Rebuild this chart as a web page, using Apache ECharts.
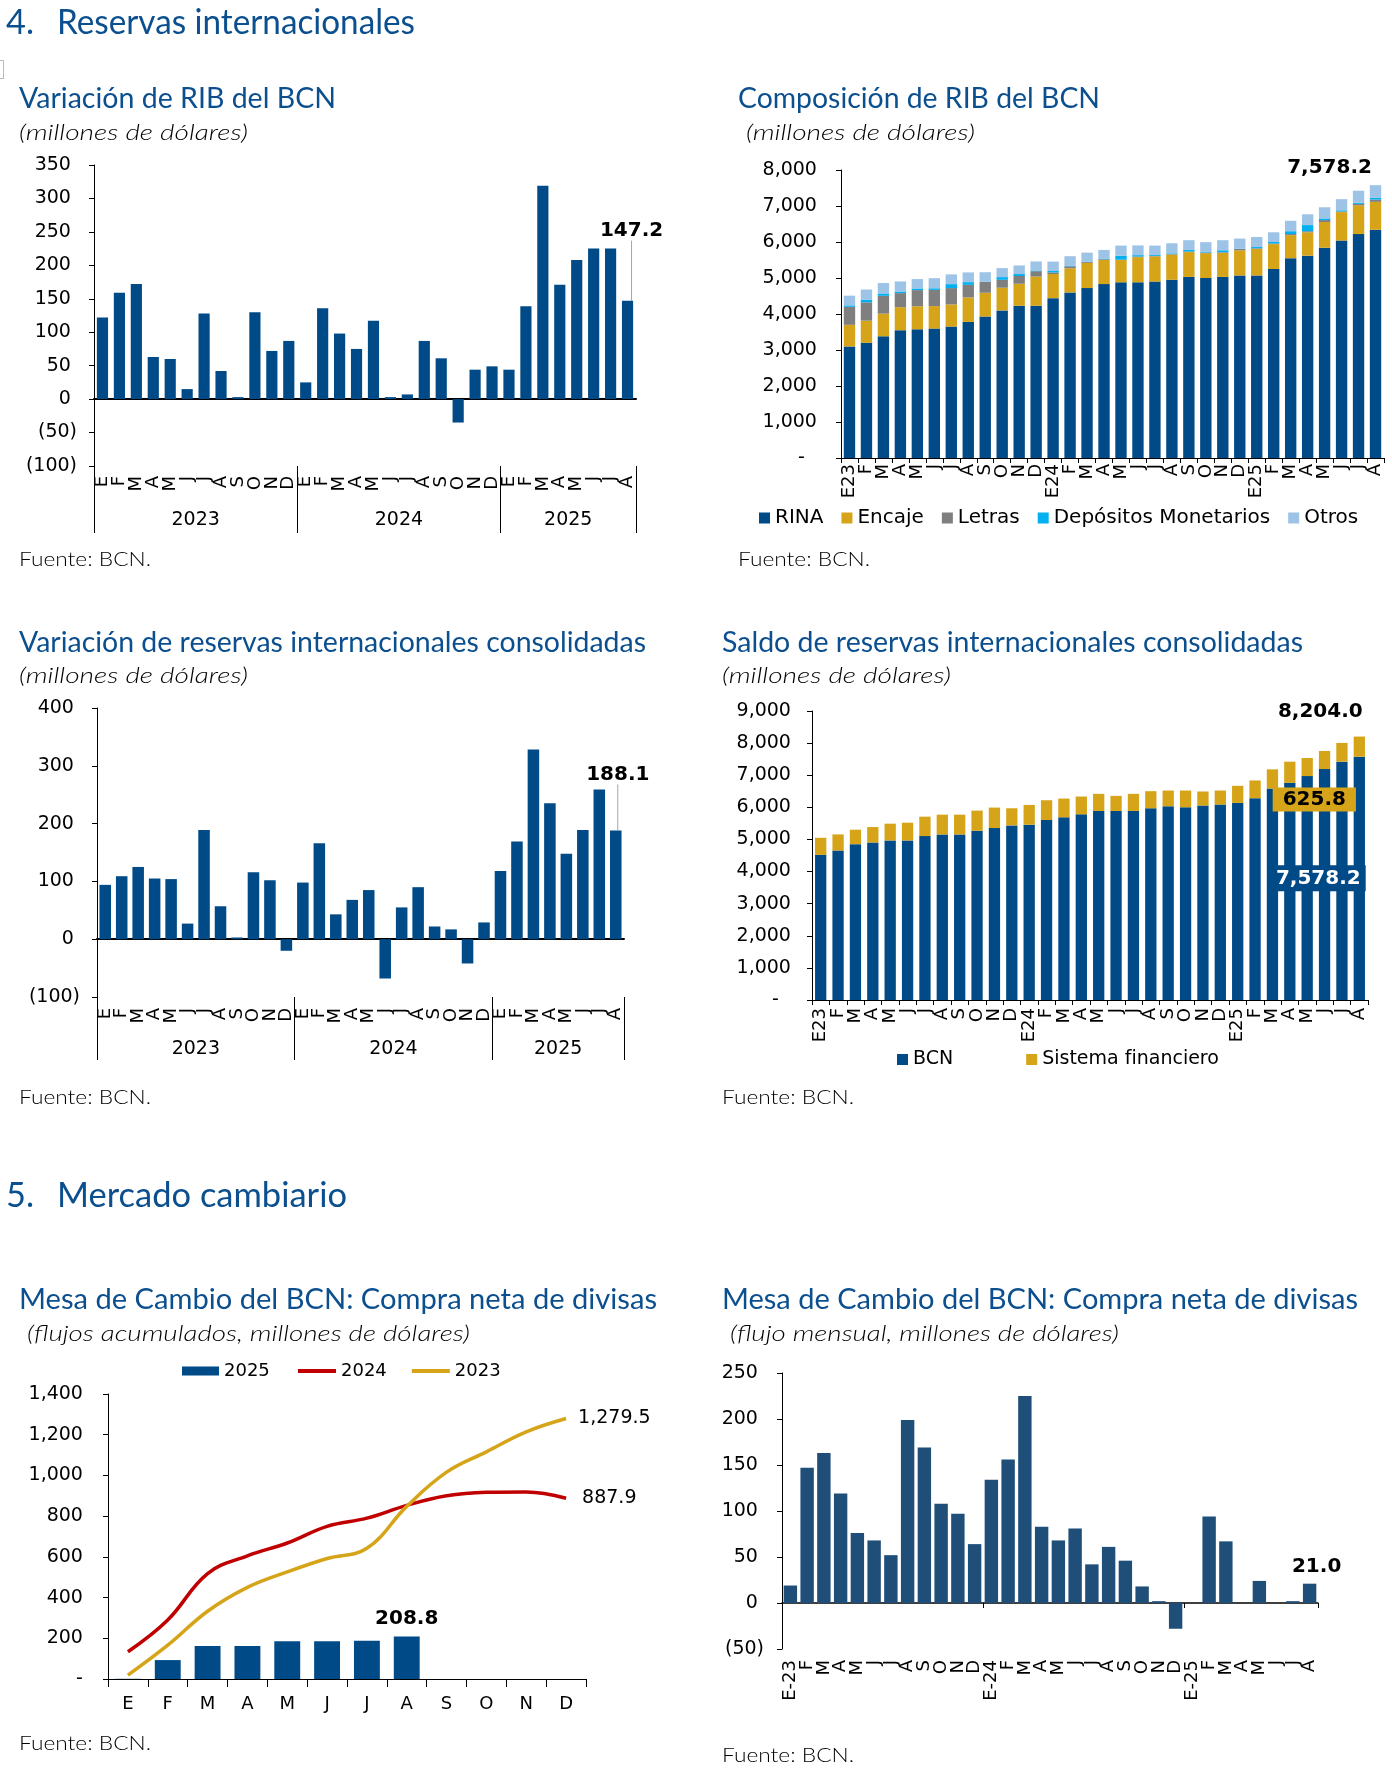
<!DOCTYPE html>
<html lang="es">
<head>
<meta charset="utf-8">
<title>Reservas internacionales y mercado cambiario</title>
<script src="https://cdn.jsdelivr.net/npm/echarts@6.0.0/dist/echarts.min.js"></script>
<style>
  html, body { margin:0; padding:0; background:#fff; }
  #page { position:relative; width:1392px; height:1771px; overflow:hidden; background:#fff; }
  .ch { position:absolute; }
  #txt { position:absolute; left:0; top:0; pointer-events:none; }
  #txt text { font-family: Lato, 'Open Sans', sans-serif; }
  .hd { fill:#0B4F8F; font-size:35px; font-weight:400; }
  .tt { fill:#0B4F8F; font-size:29px; font-weight:400; }
  .st { fill:#000; font-size:21px; font-style:italic; font-weight:300; }
  .src { fill:#000; font-size:20px; font-weight:300; }
</style>
</head>
<body>
<div id="page">
  <div style="position:absolute;left:-4px;top:60px;width:6px;height:17px;border:1px solid #bbb;"></div>
  <div class="ch" id="c1" style="left:0px;top:140px;width:700px;height:420px"></div>
  <div class="ch" id="c2" style="left:700px;top:140px;width:692px;height:420px"></div>
  <div class="ch" id="c3" style="left:0px;top:690px;width:700px;height:400px"></div>
  <div class="ch" id="c4" style="left:700px;top:690px;width:692px;height:400px"></div>
  <div class="ch" id="c5" style="left:0px;top:1350px;width:700px;height:421px"></div>
  <div class="ch" id="c6" style="left:700px;top:1350px;width:692px;height:421px"></div>
  <svg id="txt" width="1392" height="1771" xmlns="http://www.w3.org/2000/svg">
    <text class="hd" x="6" y="34" textLength="28" lengthAdjust="spacingAndGlyphs">4.</text>
    <text class="hd" x="57" y="34" textLength="358" lengthAdjust="spacingAndGlyphs">Reservas internacionales</text>

    <text class="tt" x="19" y="108" textLength="317" lengthAdjust="spacingAndGlyphs">Variación de RIB del BCN</text>
    <text class="st" x="19" y="140" textLength="229" lengthAdjust="spacingAndGlyphs">(millones de dólares)</text>
    <text class="tt" x="738" y="108" textLength="362" lengthAdjust="spacingAndGlyphs">Composición de RIB del BCN</text>
    <text class="st" x="746" y="140" textLength="229" lengthAdjust="spacingAndGlyphs">(millones de dólares)</text>
    <text class="src" x="19" y="566" textLength="132" lengthAdjust="spacingAndGlyphs">Fuente: BCN.</text>
    <text class="src" x="738" y="566" textLength="132" lengthAdjust="spacingAndGlyphs">Fuente: BCN.</text>

    <text class="tt" x="19" y="652" textLength="627" lengthAdjust="spacingAndGlyphs">Variación de reservas internacionales consolidadas</text>
    <text class="st" x="19" y="683" textLength="229" lengthAdjust="spacingAndGlyphs">(millones de dólares)</text>
    <text class="tt" x="722" y="652" textLength="581" lengthAdjust="spacingAndGlyphs">Saldo de reservas internacionales consolidadas</text>
    <text class="st" x="722" y="683" textLength="229" lengthAdjust="spacingAndGlyphs">(millones de dólares)</text>
    <text class="src" x="19" y="1104" textLength="132" lengthAdjust="spacingAndGlyphs">Fuente: BCN.</text>
    <text class="src" x="722" y="1104" textLength="132" lengthAdjust="spacingAndGlyphs">Fuente: BCN.</text>

    <text class="hd" x="6" y="1207" textLength="28" lengthAdjust="spacingAndGlyphs">5.</text>
    <text class="hd" x="57" y="1207" textLength="290" lengthAdjust="spacingAndGlyphs">Mercado cambiario</text>

    <text class="tt" x="19" y="1309" textLength="638" lengthAdjust="spacingAndGlyphs">Mesa de Cambio del BCN: Compra neta de divisas</text>
    <text class="st" x="27" y="1341" textLength="443" lengthAdjust="spacingAndGlyphs">(flujos acumulados, millones de dólares)</text>
    <text class="tt" x="722" y="1309" textLength="636" lengthAdjust="spacingAndGlyphs">Mesa de Cambio del BCN: Compra neta de divisas</text>
    <text class="st" x="730" y="1341" textLength="389" lengthAdjust="spacingAndGlyphs">(flujo mensual, millones de dólares)</text>
    <text class="src" x="19" y="1750" textLength="132" lengthAdjust="spacingAndGlyphs">Fuente: BCN.</text>
    <text class="src" x="722" y="1762" textLength="132" lengthAdjust="spacingAndGlyphs">Fuente: BCN.</text>
  </svg>
</div>
<script>
// ---------------- data ----------------
const mesLetra = ['E','F','M','A','M','J','J','A','S','O','N','D','E','F','M','A','M','J','J','A','S','O','N','D','E','F','M','A','M','J','J','A'];
const mesCorto = ['E23','F','M','A','M','J','J','A','S','O','N','D','E24','F','M','A','M','J','J','A','S','O','N','D','E25','F','M','A','M','J','J','A'];
const mesGuion = ['E-23','F','M','A','M','J','J','A','S','O','N','D','E-24','F','M','A','M','J','J','A','S','O','N','D','E-25','F','M','A','M','J','J','A'];
const mesesAnio = ['E','F','M','A','M','J','J','A','S','O','N','D'];
const anios = ['2023','2024','2025'];
const mesesPorAnio = [12, 12, 8];

// Variación de RIB del BCN
const variacionRIB = [122, 159, 172, 63, 60, 15, 128, 42, 3, 130, 72, 87, 25, 136, 98, 75, 117, 3, 7, 87, 61, -35, 44, 49, 44, 139, 319, 171, 208, 225, 225, 147.2];

// Composición de RIB del BCN
const rina      = [3100, 3200, 3380, 3550, 3575, 3595, 3650, 3780, 3930, 4100, 4230, 4230, 4440, 4600, 4720, 4830, 4880, 4880, 4900, 4950, 5030, 5000, 5030, 5070, 5070, 5250, 5550, 5620, 5840, 6040, 6220, 6340];
const encaje    = [600, 615, 630, 640, 640, 625, 615, 680, 660, 630, 610, 810, 670, 670, 700, 670, 620, 700, 700, 700, 690, 690, 670, 700, 740, 690, 640, 650, 715, 790, 800, 775];
const letras    = [500, 510, 495, 390, 450, 450, 455, 350, 300, 220, 215, 150, 45, 55, 25, 20, 10, 15, 15, 15, 15, 15, 15, 35, 15, 20, 30, 30, 55, 20, 40, 65];
const depositos = [40, 75, 65, 45, 45, 45, 110, 75, 10, 75, 55, 20, 40, 10, 10, 10, 110, 40, 25, 20, 45, 20, 55, 10, 35, 40, 80, 170, 45, 30, 30, 45];
const otros     = [270, 280, 290, 280, 260, 280, 270, 270, 260, 250, 240, 250, 260, 270, 250, 250, 280, 270, 260, 280, 270, 270, 280, 280, 280, 270, 290, 300, 310, 310, 335, 353.2];

// Variación de reservas internacionales consolidadas
const variacionConsolidada = [94, 109, 125, 105, 104, 27, 189, 57, 3, 116, 102, -20, 98, 166, 43, 68, 85, -68, 55, 90, 22, 17, -42, 29, 118, 169, 328, 235, 148, 189, 259, 188.1];

// Saldo de reservas internacionales consolidadas
const saldoBCN = [4520, 4656, 4854, 4906, 4969, 4969, 5104, 5157, 5157, 5271, 5355, 5438, 5459, 5605, 5689, 5783, 5887, 5887, 5887, 5971, 6033, 6002, 6054, 6086, 6138, 6284, 6587, 6764, 6973, 7192, 7422, 7578.2];
const saldoSF  = [532, 501, 449, 480, 522, 553, 606, 615, 615, 627, 637, 533, 616, 616, 584, 553, 533, 470, 533, 532, 491, 522, 439, 438, 532, 553, 595, 658, 564, 564, 584, 625.8];

// Mesa de cambio: flujos acumulados
const acum2025 = [1, 93, 162, 162, 185, 185, 188, 208.8];
const acum2024 = [134, 290, 518, 605, 668, 750, 790, 853, 900, 917, 919, 887.9];
const acum2023 = [19, 166, 333, 450, 526, 592, 642, 848, 1016, 1116, 1214, 1279.5];

// Mesa de cambio: flujo mensual
const flujoMensual = [19, 147, 163, 119, 76, 68, 52, 199, 169, 108, 97, 64, 134, 156, 225, 83, 68, 81, 42, 61, 46, 18, 2, -28, 0, 94, 67, 0, 24, 0, 2, 21.0];

// ---------------- styles ----------------
const FONT = 'DejaVu Sans';
const BLUE = '#004B87';
const NAVY = '#1F4E79';
const GOLD = '#D6A418';
const GRAY = '#7F7F7F';
const CYAN = '#00B0F0';
const LIGHT = '#9DC3E6';
const RED = '#C00000';
const txt = { fontFamily: FONT, color: '#000' };
const boldLbl = { fontFamily: FONT, fontSize: 20, fontWeight: 'bold', color: '#000' };

function nf(v, d) { return Number(v).toLocaleString('en-US', { minimumFractionDigits: d, maximumFractionDigits: d }); }
function fmtParen(v) { return v < 0 ? '(' + nf(-v, 0) + ')' : nf(v, 0) + ' '; }
function fmtDash(v) { return v === 0 ? '-\u2007 ' : nf(v, 0) + ' '; }
function fmtDashTight(v) { return v === 0 ? '- ' : nf(v, 0) + ' '; }
function gridBox(left, top, width, height) { return { left, top, width, height, containLabel: false, outerBoundsMode: 'none' }; }

function valueAxis(min, max, interval, formatter, margin) {
  return {
    type: 'value', min, max, interval,
    axisLine: { show: true, onZero: false, lineStyle: { color: '#000', width: 1 } },
    axisTick: { show: true, inside: false, length: 5, lineStyle: { color: '#000', width: 1 } },
    splitLine: { show: false },
    axisLabel: Object.assign({ formatter, margin, fontSize: 19 }, txt)
  };
}

function yearBounds() {
  const starts = [], centers = []; let acc = 0;
  mesesPorAnio.forEach(c => { starts.push(acc); centers.push(acc + c / 2); acc += c; });
  return { starts, centers, total: acc };
}

function lastBarLabel(values, labelCfg) {
  const n = values.length;
  return values.map((v, i) => i === n - 1 ? { value: v, label: Object.assign({ show: true, formatter: nf(v, 1) }, labelCfg) } : v);
}

function twoLevelOption(values, grid, yCfg, opts) {
  const cats = values.map((_, i) => 'm' + i);
  const yb = yearBounds();
  return {
    animation: false,
    grid,
    xAxis: [
      { type: 'category', data: cats, position: 'bottom',
        axisLine: { show: true, onZero: true, lineStyle: { color: '#000', width: 2 } },
        axisTick: { show: false }, axisLabel: { show: false }, splitLine: { show: false } },
      { type: 'category', data: cats, position: 'bottom',
        axisLine: { show: false, onZero: false },
        axisTick: { show: true, interval: (i) => yb.starts.indexOf(i) >= 0, length: opts.sepLen, lineStyle: { color: '#000', width: 1 } },
        axisLabel: Object.assign({ interval: 0, rotate: 90, margin: opts.monthMargin, fontSize: 18, formatter: (v, i) => mesLetra[i] }, txt),
        splitLine: { show: false } },
      { type: 'value', min: 0, max: yb.total, interval: 1, position: 'bottom', offset: opts.yearOffset,
        axisLine: { show: false, onZero: false }, axisTick: { show: false }, splitLine: { show: false },
        axisLabel: Object.assign({ margin: 0, fontSize: 19, formatter: (v) => { const k = yb.centers.indexOf(v); return k >= 0 ? anios[k] : ''; } }, txt) }
    ],
    yAxis: valueAxis(yCfg[0], yCfg[1], yCfg[2], fmtParen, 17),
    series: [{
      type: 'bar', xAxisIndex: 0, yAxisIndex: 0, barCategoryGap: opts.gap,
      itemStyle: { color: BLUE },
      data: lastBarLabel(values, Object.assign({ position: 'top', distance: 4 }, boldLbl)),
      labelLine: { show: true, lineStyle: { color: '#A6A6A6', width: 1 } },
      labelLayout: () => ({ dx: opts.dx, dy: opts.dy })
    }]
  };
}

// ---------------- chart 1 ----------------
echarts.init(document.getElementById('c1')).setOption(
  twoLevelOption(variacionRIB, gridBox(94, 25, 542, 301), [-100, 350, 50],
    { sepLen: 67, monthMargin: 10, yearOffset: 45, gap: '34%', dx: 4, dy: -56 }));

// ---------------- chart 2 ----------------
(function () {
  const n = rina.length;
  const cats = mesCorto.map((_, i) => 'k' + i);
  const names = ['RINA', 'Encaje', 'Letras', 'Depósitos Monetarios', 'Otros'];
  const sets = [rina, encaje, letras, depositos, otros];
  const colors = [BLUE, GOLD, GRAY, CYAN, LIGHT];
  const total = rina[n - 1] + encaje[n - 1] + letras[n - 1] + depositos[n - 1] + otros[n - 1];
  echarts.init(document.getElementById('c2')).setOption({
    animation: false,
    grid: gridBox(141, 30, 543, 288),
    legend: { left: 59, top: 368, padding: 0, icon: 'rect', itemWidth: 11, itemHeight: 11, itemGap: 18,
      textStyle: Object.assign({ fontSize: 20 }, txt), data: names },
    xAxis: { type: 'category', data: cats,
      axisLine: { show: true, lineStyle: { color: '#000', width: 1 } },
      axisTick: { show: true, length: 5, lineStyle: { color: '#000' } },
      axisLabel: Object.assign({ interval: 0, rotate: 90, margin: 6, fontSize: 18, formatter: (v, i) => mesCorto[i] }, txt) },
    yAxis: valueAxis(0, 8000, 1000, fmtDash, 18),
    series: names.map((name, s) => ({
      name, type: 'bar', stack: 'rib', barCategoryGap: '33%',
      itemStyle: { color: colors[s] },
      data: s === names.length - 1
        ? sets[s].map((v, i) => i === n - 1 ? { value: v, label: Object.assign({ show: true, position: 'top', distance: 5, offset: [-46, -2], formatter: nf(total, 1) }, boldLbl) } : v)
        : sets[s]
    }))
  });
})();

// ---------------- chart 3 ----------------
echarts.init(document.getElementById('c3')).setOption(
  twoLevelOption(variacionConsolidada, gridBox(97, 18, 527, 289), [-100, 400, 100],
    { sepLen: 63, monthMargin: 11, yearOffset: 43, gap: '30%', dx: 2, dy: -42 }));

// ---------------- chart 4 ----------------
(function () {
  const n = saldoBCN.length;
  const cats = mesCorto.map((_, i) => 's' + i);
  const total = saldoBCN[n - 1] + saldoSF[n - 1];
  echarts.init(document.getElementById('c4')).setOption({
    animation: false,
    grid: gridBox(112, 21, 556, 289),
    legend: { left: 197, top: 360, padding: 0, icon: 'rect', itemWidth: 11, itemHeight: 11, itemGap: 73,
      textStyle: Object.assign({ fontSize: 19 }, txt), data: ['BCN', 'Sistema financiero'] },
    xAxis: { type: 'category', data: cats,
      axisLine: { show: true, lineStyle: { color: '#000', width: 1 } },
      axisTick: { show: true, length: 5, lineStyle: { color: '#000' } },
      axisLabel: Object.assign({ interval: 0, rotate: 90, margin: 8, fontSize: 18, formatter: (v, i) => mesCorto[i] }, txt) },
    yAxis: valueAxis(0, 9000, 1000, fmtDash, 15),
    series: [
      { name: 'BCN', type: 'bar', stack: 'saldo', barCategoryGap: '35%', itemStyle: { color: BLUE },
        data: saldoBCN.map((v, i) => i === n - 1 ? { value: v, label: { show: true, position: 'inside', offset: [-41, 0], formatter: nf(v, 1),
          fontFamily: FONT, fontSize: 20, fontWeight: 'bold', color: '#fff', backgroundColor: BLUE, padding: [3, 5] } } : v) },
      { name: 'Sistema financiero', type: 'bar', stack: 'saldo', barCategoryGap: '35%', itemStyle: { color: GOLD },
        data: saldoSF.map((v, i) => i === n - 1 ? { value: v, label: { show: true, position: 'inside', offset: [-45, 53], formatter: nf(v, 1),
          fontFamily: FONT, fontSize: 20, fontWeight: 'bold', color: '#000', backgroundColor: GOLD, padding: [2, 10] } } : v),
        markPoint: { symbol: 'circle', symbolSize: 0, itemStyle: { color: 'rgba(0,0,0,0)' },
          data: [{ coord: [cats[n - 1], total], label: Object.assign({ show: true, position: 'top', distance: 5, offset: [-39, -10], formatter: nf(total, 1) }, boldLbl) }] } }
    ]
  });
})();

// ---------------- chart 5 ----------------
(function () {
  const cats = mesesAnio.map((_, i) => 'q' + i);
  const endLbl = (d) => ({ show: true, distance: d, formatter: (p) => nf(p.value, 1), fontFamily: FONT, fontSize: 19, color: '#000' });
  const legendText = Object.assign({ fontSize: 18 }, txt);
  echarts.init(document.getElementById('c5')).setOption({
    animation: false,
    grid: gridBox(108, 44, 478, 285),
    legend: [
      { left: 182, top: 12, padding: 0, icon: 'rect', itemWidth: 37, itemHeight: 9, textStyle: legendText, data: ['2025'] },
      { left: 298, top: 12, padding: 0, icon: 'rect', itemWidth: 38, itemHeight: 4, itemGap: 25, textStyle: legendText, data: ['2024', '2023'] }
    ],
    xAxis: { type: 'category', data: cats,
      axisLine: { show: true, lineStyle: { color: '#000', width: 1 } },
      axisTick: { show: true, length: 8, lineStyle: { color: '#000' } },
      axisLabel: Object.assign({ interval: 0, margin: 16, fontSize: 18, formatter: (v, i) => mesesAnio[i] }, txt) },
    yAxis: valueAxis(0, 1400, 200, fmtDashTight, 19),
    series: [
      { name: '2025', type: 'bar', barCategoryGap: '35%', itemStyle: { color: BLUE },
        data: lastBarLabel(acum2025, Object.assign({ position: 'top', distance: 8 }, boldLbl)) },
      { name: '2024', type: 'line', smooth: 0.4, symbol: 'none', lineStyle: { color: RED, width: 3.5 }, itemStyle: { color: RED },
        data: acum2024, endLabel: endLbl(16) },
      { name: '2023', type: 'line', smooth: 0.4, symbol: 'none', lineStyle: { color: GOLD, width: 3.5 }, itemStyle: { color: GOLD },
        data: acum2023, endLabel: endLbl(12) }
    ]
  });
})();

// ---------------- chart 6 ----------------
(function () {
  const cats = mesGuion.map((_, i) => 'r' + i);
  const yb = yearBounds();
  echarts.init(document.getElementById('c6')).setOption({
    animation: false,
    grid: gridBox(82, 23, 536, 276),
    xAxis: [
      { type: 'category', data: cats, position: 'bottom',
        axisLine: { show: true, onZero: true, lineStyle: { color: '#000', width: 1.5 } },
        axisTick: { show: true, interval: (i) => yb.starts.indexOf(i) >= 0, length: 5, lineStyle: { color: '#000' } },
        axisLabel: { show: false } },
      { type: 'category', data: cats, position: 'bottom',
        axisLine: { show: false, onZero: false }, axisTick: { show: false },
        axisLabel: Object.assign({ interval: 0, rotate: 90, margin: 11, fontSize: 18, formatter: (v, i) => mesGuion[i] }, txt) }
    ],
    yAxis: valueAxis(-50, 250, 50, fmtParen, 18),
    series: [{ type: 'bar', barCategoryGap: '20%', itemStyle: { color: NAVY },
      data: lastBarLabel(flujoMensual, Object.assign({ position: 'top', distance: 4, offset: [7, -3] }, boldLbl)) }]
  });
})();
</script>
</body>
</html>
